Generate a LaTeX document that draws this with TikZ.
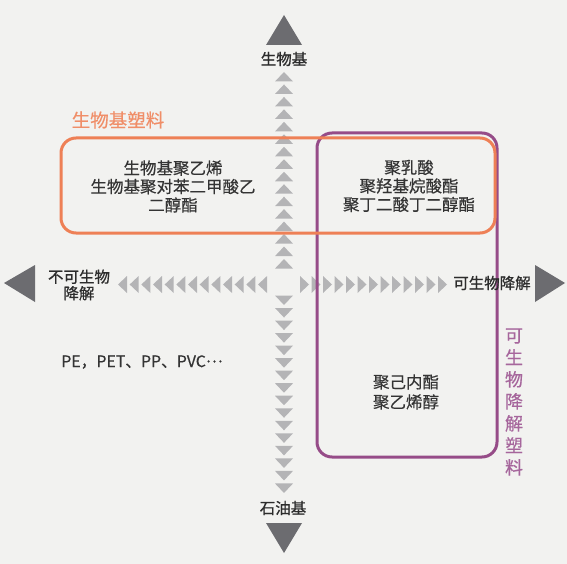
\documentclass[tikz,border=0pt]{standalone}
\usepackage{fontspec}
\setmainfont{Noto Sans CJK SC}
\newfontfamily\cjk[FakeBold=0.5]{Noto Sans CJK SC}
\newfontfamily\cjkax[FakeBold=0.9]{Noto Sans CJK SC}
\definecolor{bg}{RGB}{242,242,240}
\definecolor{bigtri}{RGB}{108,108,112}
\definecolor{smalltri}{RGB}{180,180,182}
\definecolor{orangeC}{RGB}{238,128,86}
\definecolor{orangeL}{RGB}{240,142,104}
\definecolor{purpleC}{RGB}{150,76,136}
\definecolor{purpleL}{RGB}{166,102,156}
\definecolor{txt}{RGB}{52,52,52}
\tikzset{
  bigarrow/.style={fill=bigtri},
  smallarrow/.style={fill=smalltri},
  boxframe/.style={line width=3pt, rounded corners=15pt, inner sep=0pt, fill=none},
  lbl/.style={font=\cjk\fontsize{16.5}{18.5}\selectfont, align=center, text=txt, inner sep=0pt},
  axislbl/.style={font=\cjkax\fontsize{15.5}{16.5}\selectfont, align=center, text=txt!85!black, inner sep=0pt}
}
\begin{document}
\begin{tikzpicture}[x=1pt,y=-1pt]
\fill[bg] (0,0) rectangle (567,564);
\useasboundingbox (0,0) rectangle (567,564);

% big triangles
\fill[bigarrow] (284,15) -- (302,45) -- (266,45) -- cycle;
\fill[bigarrow] (284,553) -- (302,523) -- (266,523) -- cycle;
\fill[bigarrow] (4,283) -- (35,265) -- (35,302) -- cycle;
\fill[bigarrow] (565,283) -- (535,265) -- (535,302) -- cycle;

% small triangles, vertical
\foreach \i [evaluate=\i as \yy using 77+12.47*\i] in {0,...,15}
  \fill[smallarrow] (284,\yy-5) -- (293,\yy+4.5) -- (275,\yy+4.5) -- cycle;
\foreach \i [evaluate=\i as \yy using 300+12.53*\i] in {0,...,15}
  \fill[smallarrow] (284,\yy+5) -- (293,\yy-4.5) -- (275,\yy-4.5) -- cycle;
% small triangles, horizontal
\foreach \i [evaluate=\i as \xx using 122.5+11.67*\i] in {0,...,12}
  \fill[smallarrow] (\xx-4.5,284.5) -- (\xx+4.5,276) -- (\xx+4.5,293) -- cycle;
\foreach \i [evaluate=\i as \xx using 304.5+11.5*\i] in {0,...,12}
  \fill[smallarrow] (\xx+4.5,284.5) -- (\xx-4.5,276) -- (\xx-4.5,293) -- cycle;

% boxes
\node[boxframe, draw=purpleC, minimum width=180pt, minimum height=324pt] (pbox) at (407,295) {};
\node[boxframe, draw=orangeC, minimum width=434pt, minimum height=95pt] (obox) at (278,185.5) {};

% group labels
\node[font=\cjk\fontsize{18.5}{20}\selectfont, text=orangeL, inner sep=0pt] (olabel) at (118,120) {生物基塑料};
\node[font=\cjk\fontsize{18}{22}\selectfont, text=purpleL, align=center, inner sep=0pt] (plabel) at (514,402) {可\\生\\物\\降\\解\\塑\\料};

% axis labels
\node[axislbl] (top) at (284,59) {生物基};
\node[axislbl] (bottom) at (283,508) {石油基};
\node[axislbl] (left) at (79,285) {不可生物\\降解};
\node[axislbl] (right) at (492,283) {可生物降解};

% content
\node[lbl] (q1) at (173,186.5) {生物基聚乙烯\\生物基聚对苯二甲酸乙\\二醇酯};
\node[lbl] (q2) at (409,186) {聚乳酸\\聚羟基烷酸酯\\聚丁二酸丁二醇酯};
\node[lbl, font=\cjk\fontsize{16.5}{20}\selectfont] (q4) at (406,392) {聚己内酯\\聚乙烯醇};
\node[lbl, font=\cjk\fontsize{15.8}{18}\selectfont] (q3) at (142,362) {PE，PET、PP、PVC\raisebox{0.3em}{…}};
\end{tikzpicture}
\end{document}
